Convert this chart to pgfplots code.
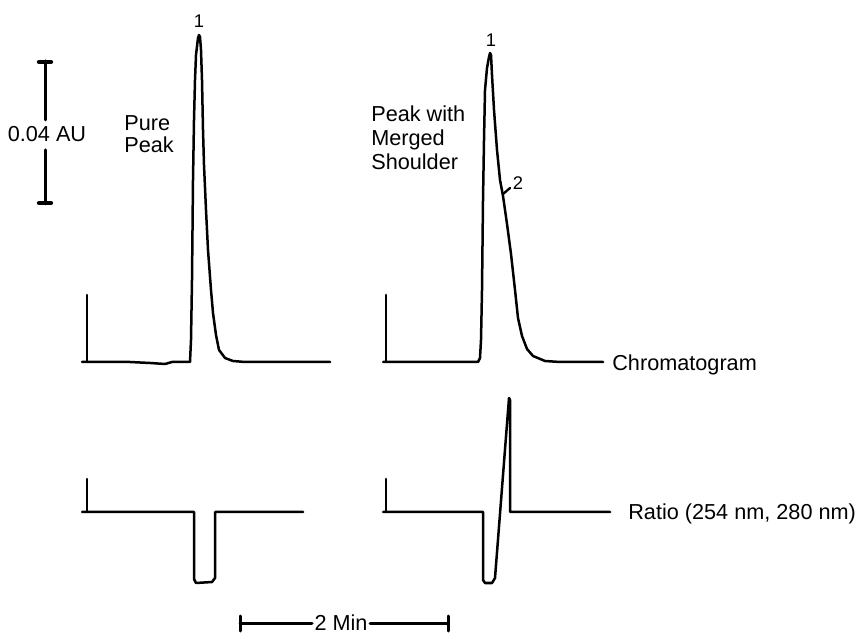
\documentclass[border=0pt]{standalone}
\usepackage{pgfplots}
\pgfplotsset{compat=1.18}
\usepackage{fontspec}
\setmainfont{Liberation Sans}
\tikzset{
  trace/.style={black, line width=1.5pt, line join=round, line cap=round, mark=none},
  lbl/.style={font=\fontsize{13}{15.6}\selectfont, inner sep=0pt, anchor=base west},
  num/.style={font=\fontsize{11}{13}\selectfont, inner sep=0pt, anchor=base}}
\begin{document}
\begin{tikzpicture}
\begin{axis}[x=0.6pt, y=0.6pt, xmin=0, xmax=861, ymin=0, ymax=636,
  y dir=reverse, axis lines=none, clip=false, enlargelimits=false,
  anchor=south west, at={(0,0)}]
% ---- left chromatogram (pure peak)
\addplot[trace] coordinates {(82,362)(100,362)(130,362)(150,363)(165,364)(172,362)(190,362)
 (191,340)(192,280)(193,180)(194,120)(195,80)(196,55)(198,38)(199,35)(200,37)
 (201,50)(202,80)(203,130)(204,165)(206,210)(208,250)(211,290)(213,313)(216,335)(219,350)
 (225,358)(233,361)(245,362)(330,362)};
\addplot[trace] coordinates {(87,295)(87,362)};
% ---- right chromatogram (peak with merged shoulder)
\addplot[trace] coordinates {(383,362)(420,362)(460,362)(478,362)(480,358)(481,340)(482,290)
 (483,200)(484,140)(485,90)(487,68)(489,57)(490,53)(491,55)(492,75)(494,110)(497,150)(500,180)
 (503,196)(507,224)(511,254)(515,290)(518,318)(522,336)(527,349)(533,356)(545,361)(560,362)(603,362)};
\addplot[trace] coordinates {(386,295)(386,362)};
% ---- left ratio trace
\addplot[trace] coordinates {(82,512)(150,512)(194,512)(194,579)(196,583)(212,582)(215,578)
 (215,512)(303,512)};
\addplot[trace] coordinates {(87,479)(87,512)};
% ---- right ratio trace
\addplot[trace] coordinates {(383,512)(440,512)(483,512)(483,580)(485,583)(492,583)(495,578)
 (509,398)(510,400)(510,512)(610,512)};
\addplot[trace] coordinates {(386,479)(386,512)};
% ---- absorbance scale bar
\addplot[trace, line width=1.8pt] coordinates {(45,61)(45,120)};
\addplot[trace, line width=1.8pt] coordinates {(45,150)(45,204)};
\addplot[trace, line width=2.6pt] coordinates {(39,62)(51,62)};
\addplot[trace, line width=2.6pt] coordinates {(39,203)(51,203)};
% ---- time scale bar
\addplot[trace, line width=1.8pt] coordinates {(240,623)(312,623)};
\addplot[trace, line width=1.8pt] coordinates {(370,623)(448,623)};
\addplot[trace, line width=1.8pt] coordinates {(240,616)(240,631)};
\addplot[trace, line width=1.8pt] coordinates {(448,616)(448,631)};
% ---- shoulder marker
\addplot[trace, line width=1.4pt] coordinates {(503,194)(510,188)};
% ---- texts
\node[lbl, anchor=base] at (axis cs:47,142) {0.04 AU};
\node[lbl] at (axis cs:124,131) {Pure};
\node[lbl] at (axis cs:124,153) {Peak};
\node[lbl] at (axis cs:371,122) {Peak with};
\node[lbl] at (axis cs:371,146) {Merged};
\node[lbl] at (axis cs:371,170) {Shoulder};
\node[lbl] at (axis cs:612,371) {Chromatogram};
\node[lbl] at (axis cs:628,520) {Ratio (254 nm, 280 nm)};
\node[lbl, anchor=base] at (axis cs:341,630) {2 Min};
\node[num] at (axis cs:199,28) {1};
\node[num] at (axis cs:491,47) {1};
\node[num] at (axis cs:518,190) {2};
\end{axis}
\pgfresetboundingbox
\path[use as bounding box] (0,0) rectangle (516.6pt,381.6pt);
\end{tikzpicture}
\end{document}
